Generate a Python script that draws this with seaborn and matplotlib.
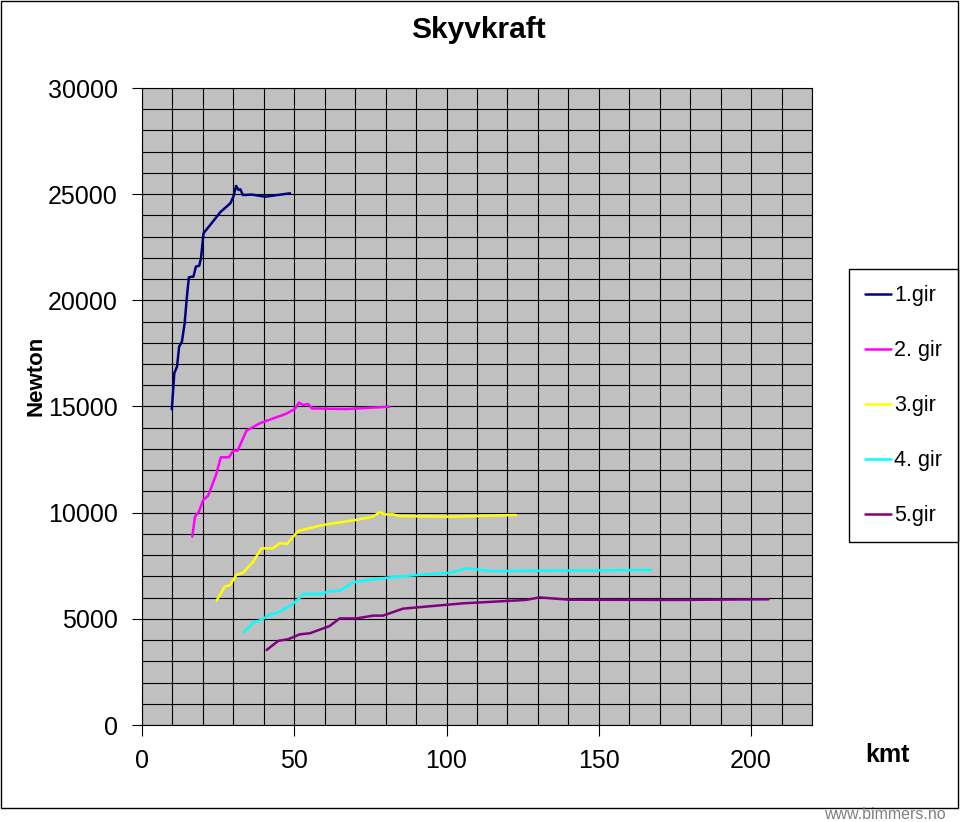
import pandas as pd
import matplotlib.pyplot as plt
import seaborn as sns
from matplotlib.patches import Rectangle

# Thrust per gear (speed in km/h, force in Newton)
gear1_kmt = [9.8, 10.6, 11.5, 12.2, 13.1, 14.0, 14.75, 15.4, 16.9, 17.7, 18.8, 19.4, 20.2,
             22.4, 25.7, 29.0, 30.0, 30.9, 31.7, 32.3, 33.1, 36.1, 40.4, 48.6]
gear1_newton = [14870, 16570, 16880, 17820, 18050, 18920, 20180, 21090, 21120, 21590, 21630,
                22020, 23160, 23550, 24150, 24570, 24880, 25390, 25200, 25230, 24960, 24980,
                24880, 25040]

gear2_kmt = [16.5, 17.4, 18.7, 20.1, 21.7, 24.3, 25.9, 28.6, 29.9, 31.4, 34.3, 38.7, 47.2,
             50.2, 51.5, 52.9, 54.5, 55.8, 67.1, 81.3]
gear2_newton = [8870, 9810, 10050, 10600, 10790, 11780, 12610, 12610, 12920, 12920, 13860,
                14210, 14650, 14880, 15180, 15070, 15120, 14910, 14880, 14990]

gear3_kmt = [24.5, 27.2, 28.9, 31.0, 33.2, 36.5, 39.2, 43.0, 45.2, 47.6, 51.3, 59.4, 70.4,
             75.8, 78.0, 79.7, 82.4, 84.6, 102.1, 122.8]
gear3_newton = [5860, 6520, 6590, 7070, 7170, 7690, 8320, 8320, 8560, 8530, 9140, 9420, 9660,
                9810, 10020, 9920, 9920, 9840, 9810, 9890]

gear4_kmt = [33.4, 36.5, 39.2, 42.0, 44.2, 49.1, 53.1, 58.4, 61.6, 64.9, 69.8, 83.5, 101.0,
             104.3, 105.9, 109.7, 114.1, 138.1, 167.1]
gear4_newton = [4350, 4820, 4950, 5210, 5260, 5650, 6170, 6170, 6300, 6330, 6740, 6990, 7170,
                7270, 7380, 7330, 7250, 7270, 7300]

gear5_kmt = [40.9, 44.7, 48.0, 51.8, 55.1, 61.6, 64.9, 70.4, 75.8, 79.1, 85.7, 105.4, 126.1,
             130.5, 140.3, 176.4, 205.7]
gear5_newton = [3530, 3960, 4040, 4270, 4320, 4660, 5020, 5020, 5150, 5150, 5480, 5730, 5890,
                6010, 5900, 5890, 5920]

gear_labels = ["1.gir", "2. gir", "3.gir", "4. gir", "5.gir"]
gear_colors = ["#000080", "#FF00FF", "#FFFF00", "#00FFFF", "#800080"]

x_ticks = [0, 50, 100, 150, 200]
y_ticks = [0, 5000, 10000, 15000, 20000, 25000, 30000]

# Long table for seaborn
frames = []
for label, xs, ys in zip(gear_labels,
                         [gear1_kmt, gear2_kmt, gear3_kmt, gear4_kmt, gear5_kmt],
                         [gear1_newton, gear2_newton, gear3_newton, gear4_newton, gear5_newton]):
    frames.append(pd.DataFrame({"kmt": xs, "newton": ys, "gear": label}))
df = pd.concat(frames, ignore_index=True)

sns.set_style("white")
plt.rcParams["font.family"] = ["Liberation Sans", "DejaVu Sans"]
plt.rcParams["text.color"] = "black"
plt.rcParams["xtick.color"] = "black"
plt.rcParams["ytick.color"] = "black"

fig = plt.figure(figsize=(9.61, 8.22), dpi=100)
ax = fig.add_axes([142 / 961, 1 - 725 / 822, 670 / 961, 637 / 822])
ax.set_facecolor("#C0C0C0")

sns.lineplot(data=df, x="kmt", y="newton", hue="gear", palette=gear_colors,
             sort=False, estimator=None, linewidth=1.8, ax=ax, legend=False)

ax.set_xlim(0, 220)
ax.set_ylim(0, 30000)
ax.set_xticks(x_ticks)
ax.set_yticks(y_ticks)
ax.set_xticks(range(0, 221, 10), minor=True)
ax.set_yticks(range(0, 30001, 1000), minor=True)
ax.grid(which="both", color="black", linewidth=0.8)
ax.set_axisbelow(True)
ax.tick_params(which="minor", length=0)
ax.tick_params(axis="y", which="major", direction="out", length=7, width=0.8,
               color="black", labelcolor="black", labelsize=18, pad=10.5, left=True)
ax.tick_params(axis="x", which="major", direction="out", length=8, width=0.8,
               color="black", labelcolor="black", labelsize=18, pad=9, bottom=True)
for sp in ax.spines.values():
    sp.set_color("black")
    sp.set_linewidth(0.8)
ax.set_xlabel("")
ax.set_ylabel("")

# Titles and axis names in figure coordinates (Excel-like placement)
fig.text(478 / 961, 1 - 30 / 822, "Skyvkraft", ha="center", va="center",
         fontsize=21.5, fontweight="bold", color="black")
fig.text(36 / 961, 1 - 376 / 822, "Newton", ha="center", va="center",
         rotation=90, fontsize=16, fontweight="bold", color="black")
fig.text(887 / 961, 1 - 755 / 822, "kmt", ha="center", va="center",
         fontsize=18, fontweight="bold", color="black")

# Legend
handles = [plt.Line2D([], [], color=c, linewidth=1.8) for c in gear_colors]
leg = fig.legend(handles, gear_labels, loc="upper left",
                 bbox_to_anchor=(849 / 961, 1 - 269 / 822), fontsize=15.5,
                 frameon=True, fancybox=False, shadow=False, framealpha=1,
                 edgecolor="black", handlelength=1.2, handletextpad=0.15,
                 labelspacing=1.58, borderpad=0.75, borderaxespad=0)
leg.get_frame().set_linewidth(1)

# Chart border and watermark
fig.patches.append(Rectangle((0.5 / 961, 14 / 822), 957.5 / 961, 807 / 822,
                             transform=fig.transFigure, fill=False,
                             edgecolor="black", linewidth=1))
fig.text(885 / 961, 1 - 814 / 822, "www.bimmers.no", ha="center", va="center",
         fontsize=11.5, color="#808080")

plt.savefig("out.png", dpi=100)
